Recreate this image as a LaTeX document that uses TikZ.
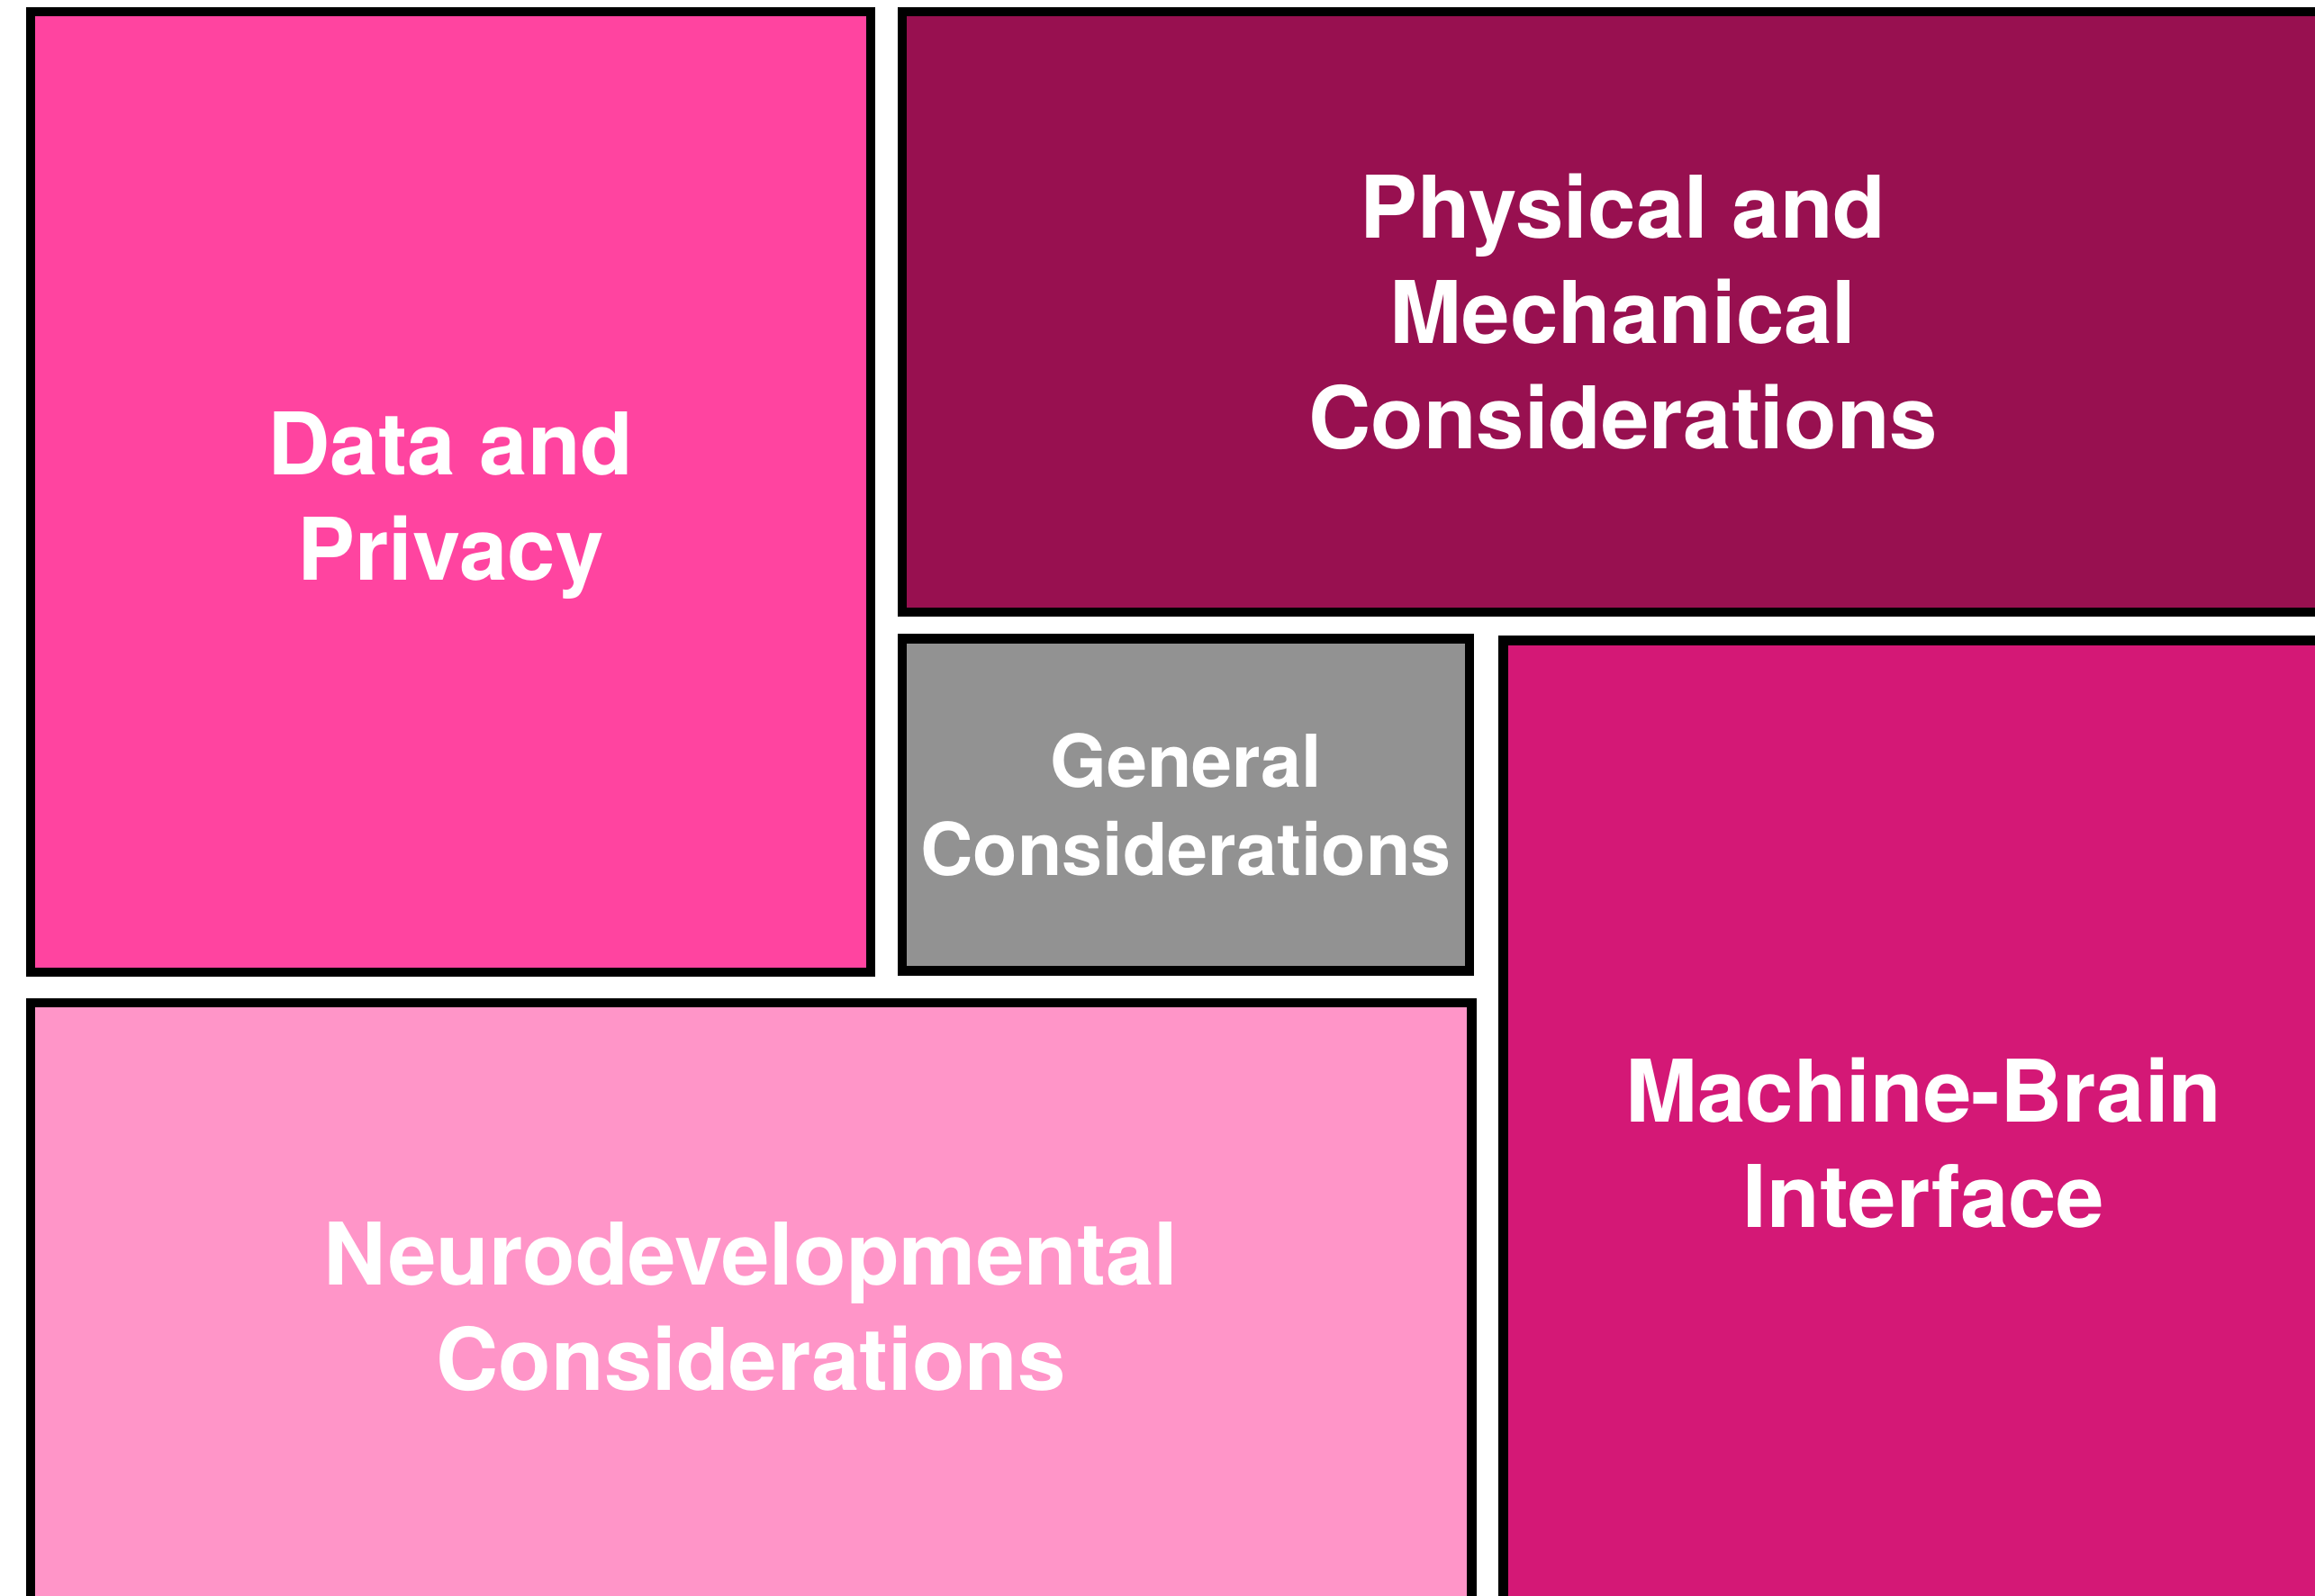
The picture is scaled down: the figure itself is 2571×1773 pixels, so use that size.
\documentclass[tikz,border=0pt]{standalone}
\usepackage{fontspec}
\setmainfont{TeX Gyre Heros}
\definecolor{datapink}{RGB}{255,68,160}
\definecolor{physplum}{RGB}{152,16,80}
\definecolor{gengray}{RGB}{146,146,146}
\definecolor{neuropink}{RGB}{255,149,200}
\definecolor{mbimagenta}{RGB}{212,24,118}
\begin{document}
\begin{tikzpicture}[x=0.01cm, y=-0.01cm,
    area/.style={draw=black, line width=0.107cm, text=white, align=center,
      inner sep=0pt, font=\bfseries\fontsize{27.3}{33.3}\selectfont}]
      \clip (0,0) rectangle (2571,1773);
      \node[area, fill=datapink, minimum width=9.324cm, minimum height=10.664cm] (data) at (500.5,546.5) {\rule{0pt}{1.0cm}Data and\\Privacy};
      \node[area, fill=physplum, minimum width=16.007cm, minimum height=6.664cm] (phys) at (1802.7,346.5) {Physical and\\Mechanical\\Considerations};
      \node[area, fill=gengray, minimum width=6.297cm, minimum height=3.684cm,
        font=\bfseries\fontsize{23}{27.9}\selectfont] (gen) at (1317,894) {General\\Considerations};
      \node[area, fill=neuropink, minimum width=15.997cm, minimum height=6.757cm] (neuro) at (834.2,1452) {Neurodevelopmental\\Considerations};
      \node[area, fill=mbimagenta, minimum width=9.33cm, minimum height=11.157cm] (mbi) at (2136.5,1270) {Machine-Brain\\Interface};
    \end{tikzpicture}
\end{document}
